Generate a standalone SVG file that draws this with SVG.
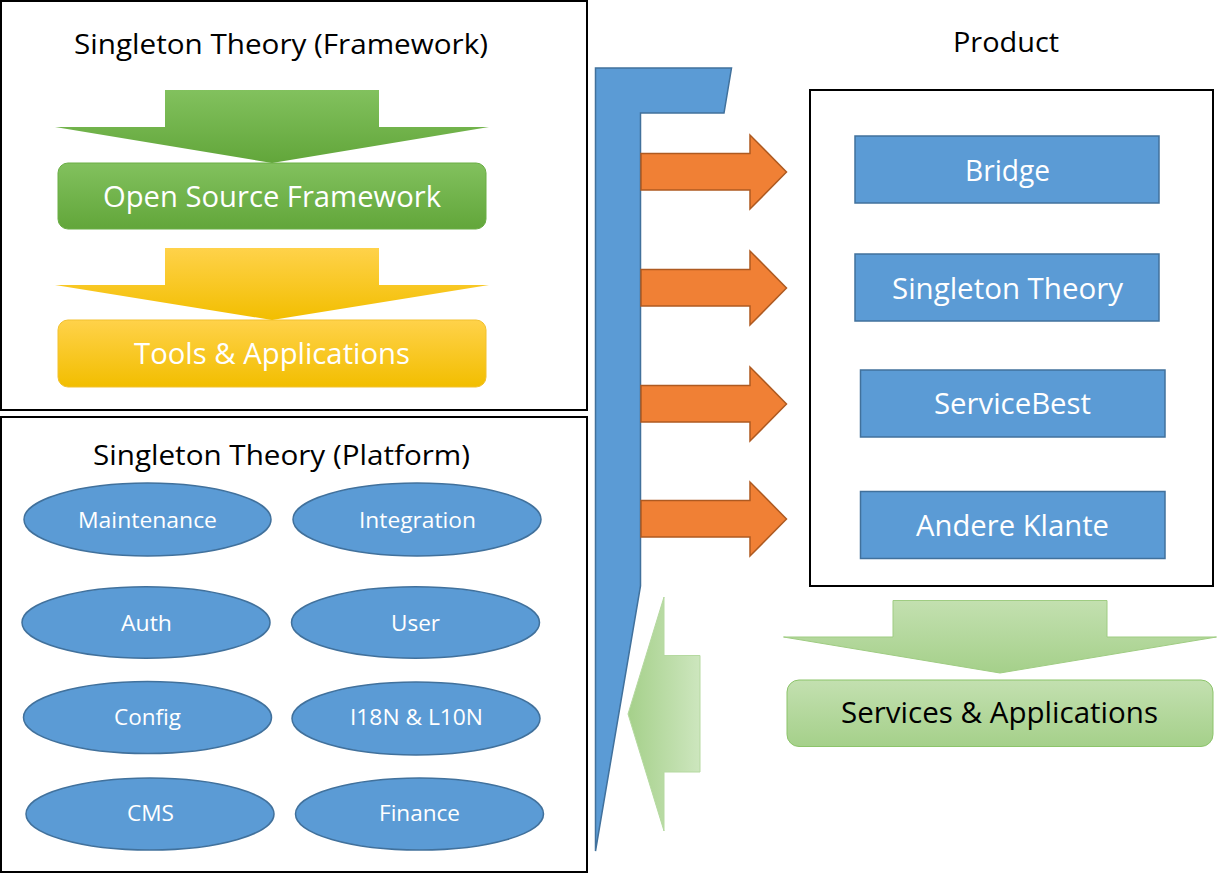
<svg xmlns="http://www.w3.org/2000/svg" width="1218" height="874" viewBox="0 0 1218 874">
<defs>
<linearGradient id="gGreen" x1="0" y1="0" x2="0" y2="1"><stop offset="0" stop-color="#82C15E"/><stop offset="1" stop-color="#62A63A"/></linearGradient>
<linearGradient id="gYellow" x1="0" y1="0" x2="0" y2="1"><stop offset="0" stop-color="#FFD24A"/><stop offset="1" stop-color="#F2BE00"/></linearGradient>
<linearGradient id="gLight" x1="0" y1="0" x2="0" y2="1"><stop offset="0" stop-color="#C3E0B0"/><stop offset="1" stop-color="#A5D08A"/></linearGradient>
<linearGradient id="gLeft" x1="0" y1="0" x2="1" y2="0"><stop offset="0" stop-color="#A5D08A"/><stop offset="1" stop-color="#CDE6BE"/></linearGradient>
</defs>
<style>
.frame{fill:#fff;stroke:#000;stroke-width:2}
.title{font-family:"Open Sans","Liberation Sans",sans-serif;font-size:28px;fill:#000;text-anchor:middle}
.wt{font-family:"Open Sans","Liberation Sans",sans-serif;font-size:29px;fill:#fff;text-anchor:middle}
.et{font-family:"Open Sans","Liberation Sans",sans-serif;font-size:22px;fill:#fff;text-anchor:middle}
.bt{font-family:"Open Sans","Liberation Sans",sans-serif;font-size:29px;fill:#000;text-anchor:middle}
.blue{fill:#5B9BD5;stroke:#41719C;stroke-width:1.5}
.orange{fill:#F08035;stroke:#AE5A21;stroke-width:1.5}
</style>

<g id="framework">
<rect class="frame" x="1" y="1" width="586" height="409"/>
<text class="title" x="281" y="54" textLength="414" lengthAdjust="spacingAndGlyphs">Singleton Theory (Framework)</text>
</g>
<g id="open-source-framework">
<rect x="58" y="163" width="428" height="66" rx="10" fill="url(#gGreen)" stroke="#6AAE45" stroke-width="1"/>
<text class="wt" x="272" y="207" textLength="338" lengthAdjust="spacingAndGlyphs">Open Source Framework</text>
</g>
<g id="tools-applications">
<rect x="58" y="320" width="428" height="67" rx="10" fill="url(#gYellow)" stroke="#F2C12E" stroke-width="1"/>
<text class="wt" x="272" y="364" textLength="276" lengthAdjust="spacingAndGlyphs">Tools &amp; Applications</text>
</g>

<g id="platform">
<rect class="frame" x="1" y="417" width="586" height="455"/>
<text class="title" x="281.5" y="465" textLength="377" lengthAdjust="spacingAndGlyphs">Singleton Theory (Platform)</text>
</g>
<g id="maintenance"><ellipse class="blue" cx="147.5" cy="519.5" rx="123.5" ry="36.5"/><text class="et" x="147.5" y="528" textLength="139" lengthAdjust="spacingAndGlyphs">Maintenance</text></g>
<g id="integration"><ellipse class="blue" cx="417" cy="519.5" rx="124" ry="36.5"/><text class="et" x="417.5" y="528" textLength="117" lengthAdjust="spacingAndGlyphs">Integration</text></g>
<g id="auth"><ellipse class="blue" cx="146" cy="622.5" rx="124" ry="35.7"/><text class="et" x="146.5" y="631" textLength="51" lengthAdjust="spacingAndGlyphs">Auth</text></g>
<g id="user"><ellipse class="blue" cx="415.5" cy="622.5" rx="124" ry="35.7"/><text class="et" x="415.5" y="631" textLength="49" lengthAdjust="spacingAndGlyphs">User</text></g>
<g id="config"><ellipse class="blue" cx="147.5" cy="717.5" rx="124" ry="36"/><text class="et" x="147.5" y="725" textLength="67" lengthAdjust="spacingAndGlyphs">Config</text></g>
<g id="i18n"><ellipse class="blue" cx="416" cy="718.5" rx="124" ry="36.5"/><text class="et" x="416.5" y="725" textLength="133" lengthAdjust="spacingAndGlyphs">I18N &amp; L10N</text></g>
<g id="cms"><ellipse class="blue" cx="150" cy="814" rx="124" ry="36"/><text class="et" x="150.5" y="821" textLength="47" lengthAdjust="spacingAndGlyphs">CMS</text></g>
<g id="finance"><ellipse class="blue" cx="419.5" cy="814" rx="124" ry="36"/><text class="et" x="419.5" y="821" textLength="81" lengthAdjust="spacingAndGlyphs">Finance</text></g>

<g id="bus">
<polygon class="blue" points="595.5,68 731.5,68 724,113 640.5,113 640.5,586 595.5,851"/>
</g>

<g id="product">
<text class="title" x="1006" y="52" textLength="106" lengthAdjust="spacingAndGlyphs">Product</text>
<rect class="frame" x="810" y="90" width="403" height="496"/>
</g>
<g id="bridge"><rect class="blue" x="855" y="136" width="304" height="67"/><text class="wt" x="1007.5" y="181" textLength="85" lengthAdjust="spacingAndGlyphs">Bridge</text></g>
<g id="singleton-theory"><rect class="blue" x="855" y="254" width="304" height="67"/><text class="wt" x="1007.5" y="299" textLength="231" lengthAdjust="spacingAndGlyphs">Singleton Theory</text></g>
<g id="servicebest"><rect class="blue" x="860.5" y="370" width="304.5" height="67"/><text class="wt" x="1012.5" y="414" textLength="157" lengthAdjust="spacingAndGlyphs">ServiceBest</text></g>
<g id="andere-klante"><rect class="blue" x="860.5" y="491.5" width="304.5" height="67"/><text class="wt" x="1012.5" y="536" textLength="193" lengthAdjust="spacingAndGlyphs">Andere Klante</text></g>

<g id="services-applications">
<rect x="787" y="680" width="426" height="66.5" rx="12" fill="url(#gLight)" stroke="#8CC46A" stroke-width="1"/>
<text class="bt" x="999.5" y="723" textLength="317" lengthAdjust="spacingAndGlyphs">Services &amp; Applications</text>
</g>

<g id="connectors">
<polygon points="165,90 379,90 379,127 489,127 272,163 55,127 165,127" fill="url(#gGreen)"/>
<polygon points="165,248 379,248 379,285 489,285 272,320 55,285 165,285" fill="url(#gYellow)"/>
<polygon class="orange" points="641,153.5 750,153.5 750,135 786.5,172 750,209 750,190 641,190"/>
<polygon class="orange" points="641,269.5 750,269.5 750,251 786.5,288 750,325 750,306 641,306"/>
<polygon class="orange" points="641,385.5 750,385.5 750,367 786.5,404 750,441 750,422 641,422"/>
<polygon class="orange" points="641,500.5 750,500.5 750,482 786.5,519 750,556 750,537 641,537"/>
<polygon points="700,655.5 664,655.5 664,597 628,714 664,831 664,772 700,772" fill="url(#gLeft)" stroke="#B5D9A0" stroke-width="1"/>
<polygon points="893,600.5 1107,600.5 1107,637 1216.5,637 1000,673 783.5,637 893,637" fill="url(#gLight)" stroke="#9FCC82" stroke-width="1"/>
</g>
</svg>
